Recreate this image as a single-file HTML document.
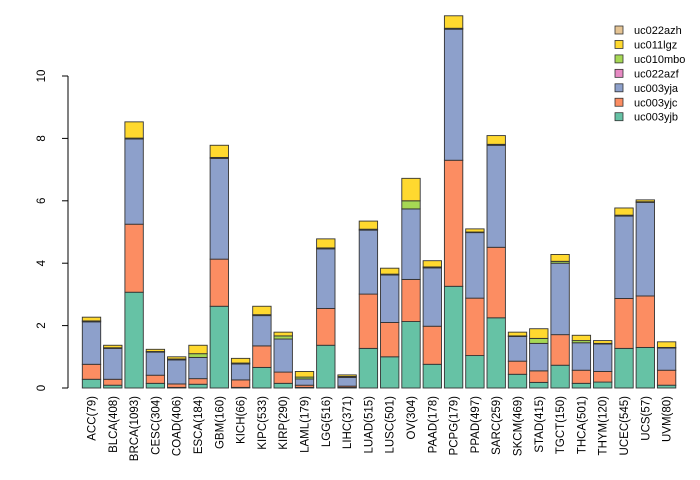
<!DOCTYPE html>
<html><head><meta charset="utf-8"><style>body{margin:0;background:#fff}svg{display:block;font-family:"Liberation Sans",sans-serif}</style></head>
<body>
<svg id="c" width="700" height="480"></svg>
<script>
const categories=["ACC(79)","BLCA(408)","BRCA(1093)","CESC(304)","COAD(406)","ESCA(184)","GBM(160)","KICH(66)","KIPC(533)","KIRP(290)","LAML(179)","LGG(516)","LIHC(371)","LUAD(515)","LUSC(501)","OV(304)","PAAD(178)","PCPG(179)","PPAD(497)","SARC(259)","SKCM(469)","STAD(415)","TGCT(150)","THCA(501)","THYM(120)","UCEC(545)","UCS(57)","UVM(80)"];
const seriesNames=["uc003yjb","uc003yjc","uc003yja","uc022azf","uc010mbo","uc011lgz","uc022azh"];
const uc003yjb=[0.28,0.09,3.07,0.15,0.02,0.12,2.62,0.02,0.66,0.15,0.02,1.37,0.02,1.27,1.0,2.13,0.76,3.26,1.04,2.25,0.44,0.18,0.73,0.15,0.19,1.27,1.3,0.09];
const uc003yjc=[0.48,0.19,2.18,0.26,0.11,0.18,1.51,0.24,0.69,0.36,0.07,1.18,0.04,1.74,1.1,1.35,1.22,4.04,1.84,2.26,0.42,0.37,0.98,0.42,0.34,1.6,1.65,0.48];
const uc003yja=[1.36,0.99,2.73,0.74,0.77,0.68,3.23,0.51,0.97,1.06,0.2,1.91,0.28,2.05,1.52,2.26,1.87,4.2,2.1,3.27,0.79,0.88,2.29,0.88,0.88,2.64,3.0,0.71];
const uc022azf=[0,0,0,0,0,0,0,0,0,0,0,0,0,0,0,0,0,0,0,0,0,0,0,0,0,0,0,0];
const uc010mbo=[0.03,0.02,0.03,0.02,0.03,0.12,0.03,0.03,0.03,0.1,0.06,0.03,0.03,0.03,0.03,0.26,0.03,0.03,0.02,0.03,0.02,0.16,0.06,0.07,0.02,0.03,0.02,0.02];
const uc011lgz=[0.12,0.08,0.52,0.07,0.07,0.27,0.39,0.15,0.27,0.12,0.18,0.29,0.05,0.26,0.19,0.72,0.2,0.4,0.1,0.28,0.12,0.31,0.22,0.17,0.09,0.23,0.06,0.18];
const uc022azh=[0,0,0,0,0,0,0,0,0,0,0,0,0,0,0,0,0,0,0,0,0,0,0,0,0,0,0,0];
const yTicks=[0,2,4,6,8,10];
const colors=["#66c2a5","#fc8d62","#8da0cb","#e78ac3","#a6d854","#ffd92f","#e5c494"];
const series=[uc003yjb,uc003yjc,uc003yja,uc022azf,uc010mbo,uc011lgz,uc022azh];
const NS="http://www.w3.org/2000/svg",svg=document.getElementById("c");
function mk(t,a,p){const e=document.createElementNS(NS,t);for(const k in a)e.setAttribute(k,a[k]);(p||svg).appendChild(e);return e;}
const y=v=>388-v*31.2, x0=82.3, step=21.3, bw=18.4;
const xb=i=>x0+i*step;
const bars=mk("g",{});


categories.forEach((c,i)=>{
  let cum=0;
  series.forEach((s,k)=>{
    const v=s[i]; if(v<=0)return;
    const r=mk("rect",{x:xb(i),y:y(cum+v),width:bw,height:v*31.2,fill:colors[k],stroke:"#333","stroke-width":0.9},bars);
    
    
    cum+=v;
  });
  const t=mk("text",{x:0,y:0,"font-size":11.5,"text-anchor":"end",transform:`translate(${xb(i)+bw/2+4},396) rotate(-90)`});
  t.textContent=c;
  
  
});
const ax=mk("g",{stroke:"#000","stroke-width":1});


mk("line",{x1:68,x2:68,y1:y(0),y2:y(10)},ax);
yTicks.forEach(v=>{
  mk("line",{x1:62,x2:68,y1:y(v),y2:y(v)},ax);
  const t=mk("text",{x:0,y:0,"font-size":11.5,"text-anchor":"middle",transform:`translate(45,${y(v)}) rotate(-90)`});
  t.textContent=v;
  
  
});
const lg=mk("g",{});


for(let k=6;k>=0;k--){
  const row=6-k, yy=30+row*14.45;
  const r=mk("rect",{x:615,y:yy-4,width:8,height:8,fill:colors[k],stroke:"#333","stroke-width":0.8},lg);
  
  
  const t=mk("text",{x:634,y:yy+4,"font-size":11},lg);
  t.textContent=seriesNames[k];
  
  
}
</script>
</body></html>
